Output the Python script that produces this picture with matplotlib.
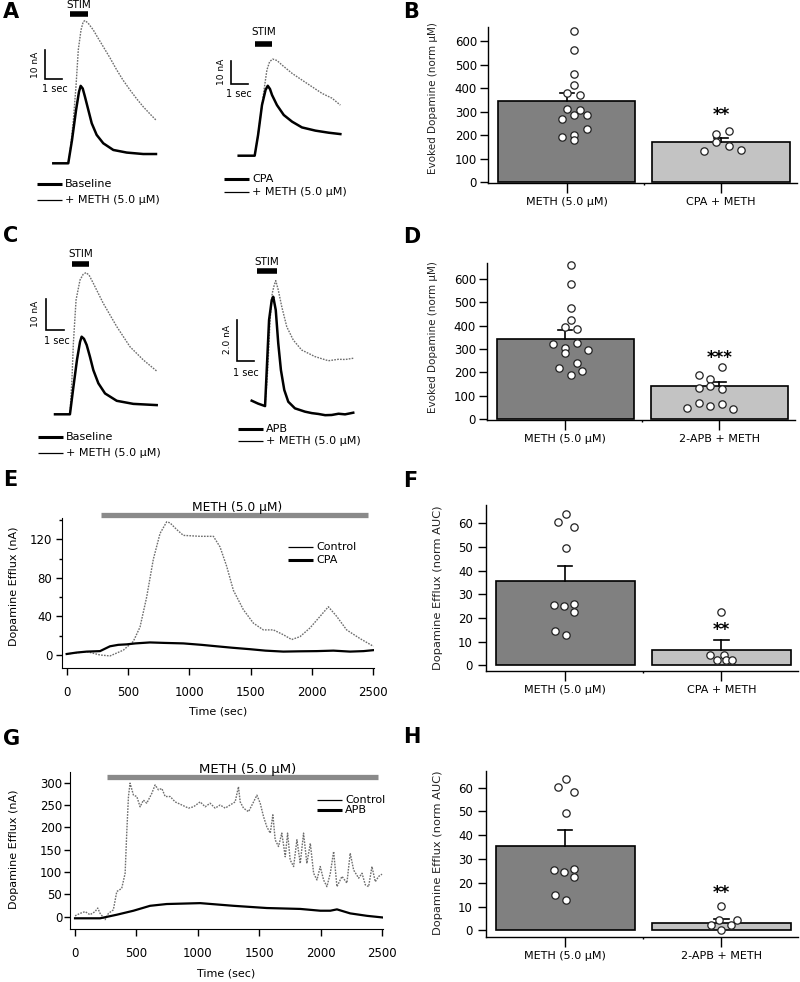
import matplotlib
matplotlib.use('Agg')
import matplotlib.pyplot as plt

plt.rcParams['font.family'] = ['DejaVu Sans']

W, H = 800, 982

# ---------------------------------------------------------------------------
# Data
# ---------------------------------------------------------------------------
# A: evoked traces (time in sec, current in nA)
a1_base_t = [0, 0.88, 1.1, 1.34, 1.51, 1.61, 1.73, 1.86, 2.06, 2.26, 2.55, 2.94, 3.53,
             4.32, 5.29, 6.04]
a1_base_i = [0, 0, 8.0, 18.4, 24.6, 26.7, 25.8, 23, 18.4, 13.8, 9.8, 6.9, 4.6,
             3.7, 3.2, 3.2]
a1_meth_t = [0.88, 1.02, 1.18, 1.34, 1.47, 1.63, 1.76, 1.86, 2.04, 2.35, 2.63, 2.94,
             3.34, 3.73, 4.1, 4.51, 4.91, 5.29, 5.69, 6.04]
a1_meth_i = [0, 5.7, 14.9, 27, 39.1, 46, 48.8, 49.2, 48.4, 46, 43.2, 40.2,
             36.3, 32.2, 28.7, 25.3, 22.2, 19.5, 17, 14.9]

a2_cpa_t = [0, 0.94, 1.14, 1.37, 1.58, 1.71, 1.84, 1.96, 2.25, 2.65, 3.14, 3.72, 4.51,
            5.29, 5.98]
a2_cpa_i = [0, 0, 9, 22, 28.6, 30.4, 29, 26.4, 22, 17.7, 14.8, 12.3, 10.9, 10, 9.4]
a2_meth_t = [0.94, 1.14, 1.37, 1.53, 1.66, 1.82, 2.0, 2.25, 2.55, 3.14, 3.72, 4.31,
             4.9, 5.49, 5.98]
a2_meth_i = [0, 9, 22, 30.7, 37.3, 40.9, 42, 41.4, 39.4, 35.8, 32.9, 30, 27.1, 25, 22]

# C: evoked traces
c1_base_t = [0, 0.83, 1.0, 1.22, 1.39, 1.48, 1.61, 1.76, 1.94, 2.13, 2.41, 2.78, 3.43,
             4.35, 5.65]
c1_base_i = [0, 0, 7.9, 17.7, 23.6, 25.3, 24.6, 22.6, 18.8, 14.4, 10.1, 6.8, 4.4,
             3.4, 3.0]
c1_meth_t = [0.83, 0.94, 1.02, 1.17, 1.39, 1.56, 1.72, 1.89, 2.13, 2.68, 3.43, 4.17,
             4.91, 5.65]
c1_meth_i = [0, 11.2, 23.1, 37.3, 43.8, 45.6, 46.2, 45.4, 42.7, 36.2, 28.6, 22, 17.7, 14.1]

c2_apb_t = [0, 0.38, 0.8, 0.9, 1.04, 1.2, 1.29, 1.44, 1.59, 1.75, 1.95, 2.19, 2.59,
            3.19, 3.6, 3.99, 4.4, 4.79, 5.2, 5.59, 6.08]
c2_apb_i = [0.58, 0.44, 0.32, 2.06, 4.48, 5.44, 5.6, 4.96, 3.35, 2.06, 1.1, 0.53, 0.21,
            0.05, -0.02, -0.06, -0.12, -0.11, -0.05, -0.08, 0]
c2_meth_t = [0.8, 0.96, 1.1, 1.23, 1.35, 1.44, 1.59, 1.8, 2.1, 2.49, 2.99, 3.79, 4.59,
             5.19, 5.6, 6.08]
c2_meth_i = [0.32, 2.06, 4.48, 5.77, 6.17, 6.38, 5.93, 5.12, 4.15, 3.51, 3.03, 2.71,
             2.51, 2.58, 2.57, 2.63]

# E: efflux time course (sec, nA)
e_ctrl_t = [0, 163, 272, 353, 462, 543, 598, 652, 706, 761, 815, 842, 897, 951, 1087,
            1196, 1250, 1304, 1359, 1440, 1522, 1603, 1685, 1766, 1834, 1902, 1983,
            2065, 2133, 2201, 2282, 2391, 2500]
e_ctrl_i = [1, 3.5, 0, -1, 5, 14, 29, 60, 99, 126, 138, 137, 130, 124, 123,
            123, 112, 92, 67, 47, 33, 26, 26, 21, 16, 19, 28,
            40, 50, 40, 26, 17, 9]
e_cpa_t = [0, 80, 163, 272, 353, 420, 489, 560, 679, 800, 951, 1100, 1223, 1350,
           1494, 1620, 1766, 1900, 2038, 2174, 2310, 2420, 2500]
e_cpa_i = [1, 2.5, 3.5, 4, 9, 10.5, 11, 12, 13, 12.5, 12, 10.5, 9, 7.5,
           6, 4.5, 3.5, 3.8, 4, 4.5, 3.5, 4, 5]

# G: efflux time course (sec, nA)
g_ctrl_t = [0, 41, 82, 122, 163, 185, 204, 245, 272, 312, 340, 380, 408, 421, 435, 448,
            476, 503, 530, 557, 584, 625, 652, 679, 707, 734, 775, 815, 870, 924, 965,
            1019, 1060, 1100, 1141, 1182, 1223, 1263, 1304, 1331, 1345, 1372, 1413,
            1454, 1481, 1508, 1535, 1562, 1590, 1611, 1630, 1657, 1684, 1712, 1731,
            1752, 1780, 1807, 1834, 1861, 1888, 1916, 1943, 1970, 1997, 2024, 2051,
            2079, 2106, 2133, 2174, 2214, 2241, 2269, 2310, 2337, 2364, 2391, 2418,
            2445, 2473, 2500]
g_ctrl_i = [1.5, 7, 11, 4, 11, 19, 7, -7, 7, 15, 56, 63, 97, 187, 269, 299,
            272, 269, 246, 261, 254, 276, 295, 284, 287, 269, 269, 257, 250, 243, 246,
            257, 246, 254, 243, 250, 243, 250, 257, 291, 257, 243, 235,
            257, 272, 254, 224, 201, 187, 228, 172, 157, 187, 134, 187,
            127, 112, 172, 119, 187, 119, 164, 97, 82, 112, 82, 67,
            97, 146, 67, 90, 75, 142, 104, 86, 97, 71, 67, 112,
            78, 90, 95]
g_apb_t = [0, 204, 340, 476, 611, 747, 1019, 1291, 1562, 1834, 1997, 2079, 2133, 2241, 2378, 2500]
g_apb_i = [-4, -4, 4, 13, 24, 28, 30, 24, 19, 17, 13, 13, 16, 7, 1.5, -2]

# Bar panels: means, SEM, individual points (x offset, value)
b_means = [345, 170]
b_sems = [36, 18]
b_pts1_x = [0.048, 0.048, 0.048, 0.048, 0.086, 0.0, 0.004, 0.086, 0.048, 0.13, -0.028, 0.13, -0.028, 0.048, 0.048]
b_pts1_y = [644, 562, 462, 412, 372, 377, 313, 308, 284, 284, 267, 227, 192, 202, 178]
b_pts2_x = [-0.11, -0.032, -0.032, 0.052, 0.052, 0.127]
b_pts2_y = [132, 206, 171, 218, 152, 135]

d_means = [343, 140]
d_sems = [39, 18]
d_pts1_x = [0.037, 0.037, 0.037, 0.037, 0.0, 0.076, -0.078, 0.076, 0.0, 0.0, 0.15, 0.076, -0.039, 0.11, 0.037]
d_pts1_y = [657, 577, 475, 425, 396, 386, 321, 325, 304, 285, 296, 239, 218, 204, 190]
d_pts2_x = [-0.134, -0.061, -0.134, -0.061, 0.017, 0.017, -0.134, -0.061, 0.017, -0.212, 0.091]
d_pts2_y = [187, 172, 135, 144, 130, 225, 71, 58, 64, 50, 43]

f_means = [35.6, 6.6]
f_sems = [6.3, 4.0]
efflux_pts1_x = [0.004, -0.05, 0.054, 0.004, -0.071, -0.011, 0.054, 0.054, -0.067, 0.004]
f_pts1_y = [64.2, 60.4, 58.3, 49.7, 25.4, 25.0, 26.1, 22.6, 14.7, 13.0]
f_pts2_x = [0.0, -0.071, 0.015, -0.028, 0.026, 0.065]
f_pts2_y = [22.4, 4.5, 4.5, 2.1, 2.1, 2.1]

h_means = [35.5, 3.2]
h_sems = [6.7, 1.7]
h_pts1_y = [63.6, 60.1, 58.0, 49.2, 25.3, 24.6, 26.0, 22.5, 14.8, 12.9]
h_pts2_x = [0.0, -0.019, 0.097, -0.069, 0.061, 0.0]
h_pts2_y = [10.3, 4.2, 4.5, 2.1, 2.1, 0.0]

cats_cpa = ['METH (5.0 µM)', 'CPA + METH']
cats_apb = ['METH (5.0 µM)', '2-APB + METH']

TRACE_GRAY = '#6e6e6e'
DOTS = (0, (1.2, 0.9))


# ---------------------------------------------------------------------------
# Helpers
# ---------------------------------------------------------------------------
def box_axes(fig, l, t, r, b):
    return fig.add_axes([l / W, 1 - b / H, (r - l) / W, (b - t) / H])


def trace_axes(fig, box, ox, oy, sx, sy):
    """Axes whose data units map to px via origin (ox, oy) and scales sx, sy."""
    l, t, r, b = box
    ax = box_axes(fig, l, t, r, b)
    ax.set_xlim((l - ox) / sx, (r - ox) / sx)
    ax.set_ylim((oy - b) / sy, (oy - t) / sy)
    ax.axis('off')
    ax.ox, ax.oy, ax.sx, ax.sy = ox, oy, sx, sy
    return ax


def scale_bar(ax, px, py, amp):
    x0 = (px - ax.ox) / ax.sx
    y0 = (ax.oy - py) / ax.sy
    ax.plot([x0, x0, x0 + 1], [y0 + amp, y0, y0], color='black', lw=1.2,
            solid_joinstyle='miter', clip_on=False)


def place_ylabel(ax, box, x_right, y_center):
    l, t, r, b = box
    ax.yaxis.set_label_coords((x_right - l) / (r - l), (b - y_center) / (b - t))


def bar_panel(fig, box, ylim, yticks, means, sems, x1, y1, x2, y2, stars, star_y,
              cats, ylabel, ylab_size, ylab_pos, ypad):
    ax = box_axes(fig, *box)
    ax.set_xlim(-0.508, 1.49)
    ax.set_ylim(*ylim)
    ax.bar([0, 1], means, width=0.89, color=['#808080', '#c3c3c3'],
           edgecolor='black', linewidth=1.2, zorder=1)
    for i, (m, s) in enumerate(zip(means, sems)):
        ax.plot([i, i], [m, m + s], color='black', lw=1.2, zorder=2)
        ax.plot([i - 0.045, i + 0.045], [m + s, m + s], color='black', lw=1.2, zorder=2)
    ax.scatter([0 + v for v in x1], y1, s=28, facecolor='white', edgecolor='#222222',
               linewidth=0.9, zorder=3, clip_on=False)
    ax.scatter([1 + v for v in x2], y2, s=28, facecolor='white', edgecolor='#222222',
               linewidth=0.9, zorder=3, clip_on=False)
    ax.text(1, star_y, stars, ha='center', va='center', fontsize=12,
            fontweight='bold')
    for side in ('top', 'right'):
        ax.spines[side].set_visible(False)
    for side in ('left', 'bottom'):
        ax.spines[side].set_linewidth(1.0)
    ax.set_yticks(yticks)
    ax.set_xticks([0, 1])
    ax.set_xticks([0.5], minor=True)
    ax.set_xticklabels(cats)
    ax.tick_params(axis='y', direction='out', length=5.5, width=1, labelsize=8.5,
                   pad=ypad)
    ax.tick_params(axis='x', which='major', direction='out', length=7.5, width=1,
                   labelsize=8, pad=2.5)
    ax.tick_params(axis='x', which='minor', direction='out', length=1.5, width=1)
    ax.set_ylabel(ylabel, fontsize=ylab_size, color='#222222')
    place_ylabel(ax, box, *ylab_pos)
    return ax


# ---------------------------------------------------------------------------
# Figure
# ---------------------------------------------------------------------------
fig = plt.figure(figsize=(W / 100, H / 100), dpi=100, facecolor='white')

# overlay in pixel coordinates for labels, legends, stimulus bars
ov = fig.add_axes([0, 0, 1, 1], zorder=5)
ov.set_xlim(0, W)
ov.set_ylim(H, 0)
ov.axis('off')

for letter, x, y in [('A', 3, 12), ('B', 403, 12), ('C', 3, 236), ('D', 403, 237),
                     ('E', 3, 480), ('F', 403, 481), ('G', 3, 739), ('H', 403, 737)]:
    ov.text(x, y, letter, fontsize=15, fontweight='bold', ha='left', va='center')


def legend_pair(x, y1, y2, lab1, lab2, gap=3):
    ov.plot([x, x + 25], [y1, y1], color='black', lw=2.2, solid_capstyle='butt')
    ov.plot([x, x + 25], [y2, y2], color='black', lw=0.9, solid_capstyle='butt')
    ov.text(x + 25 + gap, y1, lab1, fontsize=8, va='center', ha='left')
    ov.text(x + 25 + gap, y2, lab2, fontsize=8, va='center', ha='left')


def stim(x0, x1, y, ty):
    ov.plot([x0, x1], [y, y], color='black', lw=4, solid_capstyle='butt')
    ov.text((x0 + x1) / 2, ty, 'STIM', fontsize=7.5, ha='center', va='center')


# ---- A left
ax = trace_axes(fig, (25, 0, 178, 215), 53.3, 163.3, 17, 2.9)
ax.plot(a1_meth_t, a1_meth_i, color=TRACE_GRAY, lw=1.0, ls=DOTS)
ax.plot(a1_base_t, a1_base_i, color='black', lw=1.8)
scale_bar(ax, 45, 79, 10)
ov.text(36, 65, '10 nA', fontsize=6.5, rotation=90, ha='center', va='center')
ov.text(55, 89, '1 sec', fontsize=7, ha='center', va='center')
stim(70, 88, 14, 5)
legend_pair(37, 184, 200, 'Baseline', '+ METH (5.0 µM)')

# ---- A right
ax = trace_axes(fig, (215, 0, 360, 215), 238.7, 155.7, 17, 2.3)
ax.plot(a2_meth_t, a2_meth_i, color=TRACE_GRAY, lw=1.0, ls=DOTS)
ax.plot(a2_cpa_t, a2_cpa_i, color='black', lw=1.8)
scale_bar(ax, 231, 84, 10)
ov.text(221, 72, '10 nA', fontsize=6.5, rotation=90, ha='center', va='center')
ov.text(239, 94, '1 sec', fontsize=7, ha='center', va='center')
stim(255, 272, 44, 32)
legend_pair(224, 179, 192, 'CPA', '+ METH (5.0 µM)')

# ---- C left
ax = trace_axes(fig, (25, 225, 178, 460), 55, 414.3, 18, 3.067)
ax.plot(c1_meth_t, c1_meth_i, color=TRACE_GRAY, lw=1.0, ls=DOTS)
ax.plot(c1_base_t, c1_base_i, color='black', lw=1.8)
scale_bar(ax, 46, 330, 10)
ov.text(36, 314, '10 nA', fontsize=6.5, rotation=90, ha='center', va='center')
ov.text(57, 341, '1 sec', fontsize=7, ha='center', va='center')
stim(72, 89, 264, 254)
legend_pair(38, 437, 453, 'Baseline', '+ METH (5.0 µM)')

# ---- C right
ax = trace_axes(fig, (215, 225, 360, 460), 251.7, 412.7, 16.7, 20.7)
ax.plot(c2_meth_t, c2_meth_i, color=TRACE_GRAY, lw=1.0, ls=DOTS)
ax.plot(c2_apb_t, c2_apb_i, color='black', lw=1.8)
scale_bar(ax, 237, 361, 2.0)
ov.text(228, 339, '2.0 nA', fontsize=6.5, rotation=90, ha='center', va='center')
ov.text(246, 373, '1 sec', fontsize=7, ha='center', va='center')
stim(257, 277, 271, 262)
legend_pair(238, 429, 441, 'APB', '+ METH (5.0 µM)')

# ---- B, D, F, H bar panels
bar_panel(fig, (488, 27, 797, 183), (-4, 660), range(0, 601, 100), b_means, b_sems,
          b_pts1_x, b_pts1_y, b_pts2_x, b_pts2_y, '**', 284, cats_cpa,
          'Evoked Dopamine (norm µM)', 7.5, (438, 98), 2.5)
bar_panel(fig, (487, 263, 795, 420), (-3, 667), range(0, 601, 100), d_means, d_sems,
          d_pts1_x, d_pts1_y, d_pts2_x, d_pts2_y, '***', 263, cats_apb,
          'Evoked Dopamine (norm µM)', 7.5, (438, 337), 2.5)
bar_panel(fig, (486, 505, 798, 671), (-2.4, 67.8), range(0, 61, 10), f_means, f_sems,
          efflux_pts1_x, f_pts1_y, f_pts2_x, f_pts2_y, '**', 14.8, cats_cpa,
          'Dopamine Efflux (norm AUC)', 8.2, (443, 588), 4)
bar_panel(fig, (486, 771, 798, 937), (-2.8, 67), range(0, 61, 10), h_means, h_sems,
          efflux_pts1_x, h_pts1_y, h_pts2_x, h_pts2_y, '**', 15.9, cats_apb,
          'Dopamine Efflux (norm AUC)', 8.2, (443, 853), 4)


def efflux_axes(box, xlim, ylim, ylab_pos, xlab_top, ypad):
    l, t, r, b = box
    ax = box_axes(fig, *box)
    ax.set_xlim(*xlim)
    ax.set_ylim(*ylim)
    for side in ('top', 'right'):
        ax.spines[side].set_visible(False)
    ax.set_xticks(range(0, 2501, 500))
    ax.tick_params(axis='x', direction='out', length=5, width=1, labelsize=8.5, pad=8)
    ax.tick_params(axis='y', direction='out', length=4, width=1, labelsize=8.5,
                   pad=ypad)
    ax.set_xlabel('Time (sec)', fontsize=8)
    ax.xaxis.set_label_coords(0.5, (b - xlab_top) / (b - t))
    ax.set_ylabel('Dopamine Efflux (nA)', fontsize=8)
    place_ylabel(ax, box, *ylab_pos)
    return ax


# ---- E
ax = efflux_axes((62, 518, 374, 668), (-38, 2505), (-13.5, 142), (19, 586), 706, 3)
ax.set_yticks([0, 40, 80, 120])
ax.set_yticks([20, 60, 100, 140], minor=True)
ax.tick_params(axis='y', which='minor', direction='out', length=2.5, width=1)
ax.plot(e_ctrl_t, e_ctrl_i, color=TRACE_GRAY, lw=1.0, ls=DOTS)
ax.plot(e_cpa_t, e_cpa_i, color='black', lw=1.6)
ax.plot([280, 2456], [145, 145], color='#8a8a8a', lw=3.8, solid_capstyle='butt',
        clip_on=False)
ov.text(237, 507, 'METH (5.0 µM)', fontsize=8.8, ha='center', va='center')
legend_pair(288, 560, 547, 'CPA', 'Control')

# ---- G
ax = efflux_axes((70, 772, 383, 929), (-41, 2508), (-28, 324), (19, 849), 969, 1.5)
ax.set_yticks(range(0, 301, 50))
ax.plot(g_ctrl_t, g_ctrl_i, color=TRACE_GRAY, lw=1.0, ls=DOTS)
ax.plot(g_apb_t, g_apb_i, color='black', lw=1.6)
ax.plot([258, 2467], [312, 312], color='#8a8a8a', lw=3.8, solid_capstyle='butt',
        clip_on=False)
ov.text(248, 769, 'METH (5.0 µM)', fontsize=9.5, ha='center', va='center')
legend_pair(317, 810, 800, 'APB', 'Control')

fig.savefig('out.png', dpi=100, facecolor='white')
